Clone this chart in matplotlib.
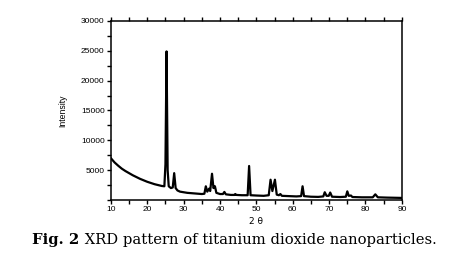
import matplotlib
matplotlib.use('Agg')
import matplotlib.pyplot as plt
from matplotlib.ticker import MultipleLocator
from matplotlib.offsetbox import TextArea, HPacker, AnchoredOffsetbox

# -------------------------------------------------------------------
# Data (2 theta in degrees, counts)
# -------------------------------------------------------------------
two_theta = [10, 11, 12, 13, 14, 15, 16, 17, 18, 19, 20, 21, 22, 23, 24,
             24.7, 25.0, 25.3, 25.6, 25.9, 26.5, 27.0, 27.4, 27.8, 28.3,
             29, 30, 31, 32, 33, 34, 35, 35.7, 36.1, 36.5, 37.0, 37.3,
             37.8, 38.2, 38.6, 39.0, 40, 40.8, 41.2, 41.6, 43, 44, 44.2,
             44.5, 46, 47.6, 48.0, 48.4, 50, 52, 53.4, 53.9, 54.4, 55.1,
             55.6, 56.2, 56.6, 57.0, 59, 61, 62.3, 62.7, 63.1, 65, 67,
             68.4, 68.8, 69.3, 69.9, 70.3, 70.8, 73, 74.6, 75.0, 75.4,
             76.0, 76.4, 79, 82.0, 82.7, 83.4, 86, 90]
intensity = [7000, 6300, 5750, 5250, 4850, 4500, 4150, 3850, 3550, 3300,
             3050, 2850, 2650, 2500, 2350,
             2300, 6000, 24900, 5000, 2300, 2000, 2100, 4500, 2000, 1600,
             1400, 1300, 1200, 1150, 1100, 1050, 1000, 1050, 2300, 1400,
             1900, 1500,
             4400, 2000, 2300, 1200, 1000, 1000, 1350, 950, 850, 850, 1000,
             850, 800, 800, 5700, 800, 750, 700, 800, 3400, 1500, 3400,
             900, 800, 1000, 700, 650, 600, 650, 2300, 650, 550, 520,
             600, 1300, 700, 700, 1250, 550, 500, 550, 1450, 700,
             750, 500, 450, 450, 950, 450, 400, 350]

y_ticks = [5000, 10000, 15000, 20000, 25000, 30000]
x_ticks = [10, 20, 30, 40, 50, 60, 70, 80, 90]

# -------------------------------------------------------------------
# Figure
# -------------------------------------------------------------------
fig = plt.figure(figsize=(4.49, 2.69), dpi=100)
ax = fig.add_axes([0.247, 0.2565, 0.648, 0.6655])

ax.plot(two_theta, intensity, color='black', linewidth=1.6,
        solid_joinstyle='round')

ax.set_xlim(10, 90)
ax.set_ylim(0, 30000)
ax.set_xticks(x_ticks)
ax.set_yticks(y_ticks)
ax.xaxis.set_minor_locator(MultipleLocator(5))
ax.yaxis.set_minor_locator(MultipleLocator(2500))

for s in ax.spines.values():
    s.set_linewidth(1.1)

ax.tick_params(which='both', direction='out', width=1.0,
               top=True, right=False, labelsize=6, pad=1.5,
               colors='black')
ax.tick_params(which='major', length=3)
ax.tick_params(which='minor', length=3)
for lab in ax.get_xticklabels() + ax.get_yticklabels():
    lab.set_family('Liberation Sans')

ax.set_ylabel('Intensity', fontsize=6.2, family='Liberation Sans',
              labelpad=10)
ax.set_xlabel('2 θ', fontsize=6.5, family='DejaVu Sans', labelpad=3)

# caption with bold figure number
bold = TextArea('Fig. 2', textprops=dict(family='DejaVu Serif',
                                         fontweight='bold', fontsize=10.6))
rest = TextArea(' XRD pattern of titanium dioxide nanoparticles.',
                textprops=dict(family='DejaVu Serif', fontsize=10.6))
box = HPacker(children=[bold, rest], pad=0, sep=0, align='baseline')
anch = AnchoredOffsetbox(loc='center', child=box, frameon=False,
                         bbox_to_anchor=(0.522, 0.107),
                         bbox_transform=fig.transFigure, borderpad=0)
fig.add_artist(anch)

fig.savefig('out.png', dpi=100, facecolor='white')
